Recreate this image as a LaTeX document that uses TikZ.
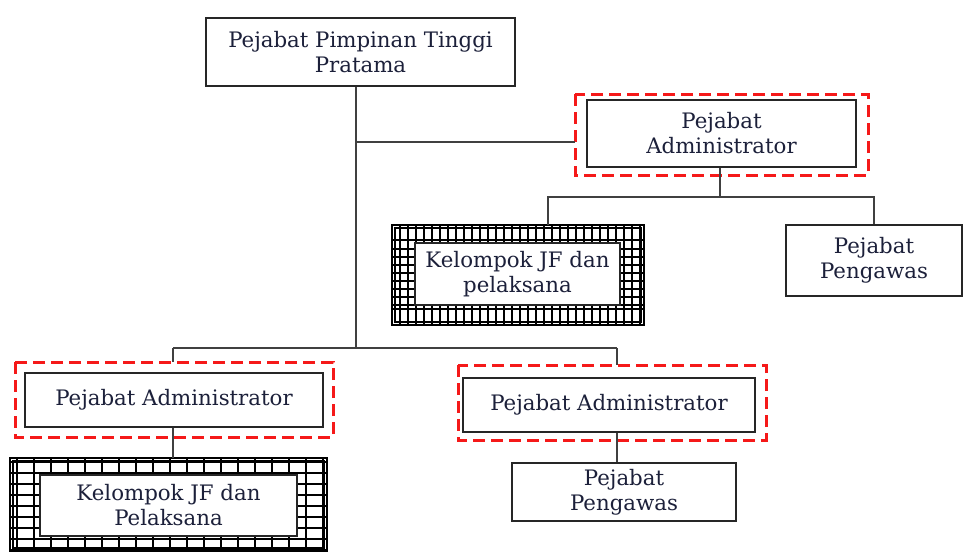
\documentclass[tikz,border=0pt]{standalone}
\usepackage{fontspec}
\setmainfont{DejaVu Serif}
\definecolor{txt}{RGB}{28,32,58}
\definecolor{dred}{RGB}{245,25,25}
\tikzset{
  box/.style={draw=black!85, line width=1.3pt, fill=white, align=center, text=txt, font=\fontsize{21.3}{25}\selectfont, inner sep=0pt},
  redframe/.style={draw=dred, line width=3pt, dash pattern=on 12pt off 6pt},
  conn/.style={draw=black!75, line width=1.2pt},
  gridline/.style={draw=black, line width=1.1pt},
  gridframe/.style={draw=black, line width=1.6pt}
}
\begin{document}
\begin{tikzpicture}[x=1pt,y=-1pt]
\useasboundingbox (0,0) rectangle (965,551);
% grid of upper JF box
\begin{scope}
\clip (392,225) rectangle (644,325);
\foreach \gx in {400,408,...,640} \draw[gridline] (\gx,225) -- (\gx,325);
\draw[gridline] (392,240) -- (644,240);
\draw[gridline] (392,309) -- (644,309);
\foreach \gy in {249,257,...,305} {
  \draw[gridline] (392,\gy) -- (415,\gy);
  \draw[gridline] (620,\gy) -- (644,\gy);
}
\end{scope}
\draw[gridframe] (392,225) rectangle (644,325);
\draw[gridframe] (395,228) rectangle (641,322);
% grid of lower JF box
\begin{scope}
\clip (10,458) rectangle (327,551);
\draw[gridline, xstep=17pt, ystep=11pt] (10,458) grid (327,551);
\end{scope}
\draw[gridframe] (10,458) rectangle (327,551);
\draw[gridframe] (13,461) rectangle (324,548);

% nodes
\node[box, minimum width=309pt, minimum height=68pt] (top) at (360.5,52) {Pejabat Pimpinan Tinggi\\Pratama};
\node[box, minimum width=269pt, minimum height=67pt] (adm1) at (721.5,133.5) {Pejabat\\Administrator};
\node[box, minimum width=205pt, minimum height=62pt] (jf1) at (517.5,274) {Kelompok JF dan\\pelaksana};
\node[box, minimum width=176pt, minimum height=71pt] (pg1) at (874,260.5) {Pejabat\\Pengawas};
\node[box, minimum width=298pt, minimum height=54pt] (adm2) at (174,400) {Pejabat Administrator};
\node[box, minimum width=257pt, minimum height=61pt] (jf2) at (168.5,505.5) {Kelompok JF dan\\Pelaksana};
\node[box, minimum width=292pt, minimum height=54pt] (adm3) at (609,405) {Pejabat Administrator};
\node[box, minimum width=224pt, minimum height=58pt] (pg2) at (624,492) {Pejabat\\Pengawas};

% red dashed frames
\draw[redframe] (575,94) rectangle (868,175);
\draw[redframe] (15,362) rectangle (333,437);
\draw[redframe] (458,365) rectangle (766,440);

% connectors
\coordinate (trunk) at (356,348);
\coordinate (j1) at (356,142);
\coordinate (r1) at (575,142);
\coordinate (b1) at (720,197);
\coordinate (jf1o) at (548,225);
\coordinate (lft) at (173,348);
\coordinate (rgt) at (617,348);
\draw[conn] (top.south -| trunk) -- (trunk);
\draw[conn] (j1) -- (r1);
\draw[conn] (adm1.south -| b1) -- (b1);
\draw[conn] (jf1o) |- (b1) -| (pg1.north);
\draw[conn] (lft) -- (rgt);
\draw[conn] (lft) -- (lft |- 0,362);
\draw[conn] (rgt) -- (rgt |- 0,365);
\draw[conn] (adm2.south -| lft) -- (lft |- 0,458);
\draw[conn] (adm3.south -| rgt) -- (pg2.north -| rgt);
\end{tikzpicture}
\end{document}
